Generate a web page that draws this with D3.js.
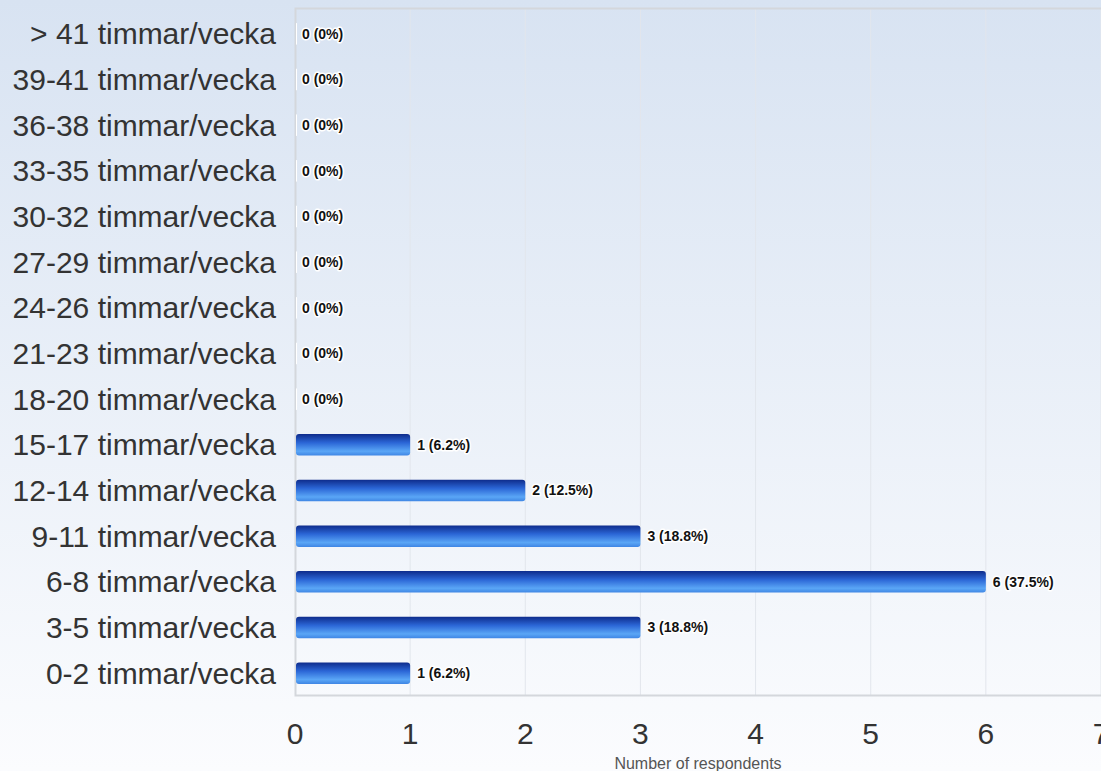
<!DOCTYPE html>
<html><head><meta charset="utf-8">
<script src="https://cdn.jsdelivr.net/npm/d3@7"></script>
<style>html,body{margin:0;padding:0;overflow:hidden}svg{display:block}</style>
</head><body>
<svg id="c" width="1101" height="771"></svg>
<script>
const categories = ["> 41 timmar/vecka","39-41 timmar/vecka","36-38 timmar/vecka","33-35 timmar/vecka","30-32 timmar/vecka","27-29 timmar/vecka","24-26 timmar/vecka","21-23 timmar/vecka","18-20 timmar/vecka","15-17 timmar/vecka","12-14 timmar/vecka","9-11 timmar/vecka","6-8 timmar/vecka","3-5 timmar/vecka","0-2 timmar/vecka"];
const counts = [0,0,0,0,0,0,0,0,0,1,2,3,6,3,1];
const percents = ["0%","0%","0%","0%","0%","0%","0%","0%","0%","6.2%","12.5%","18.8%","37.5%","18.8%","6.2%"];
const xTicks = [0,1,2,3,4,5,6,7];
const xTitle = "Number of respondents";

const svg = d3.select("#c");
const W = 1101, H = 771;
const plotTop = 8, plotBottom = 695, plotLeft = 295;
const defs = svg.append("defs");
const bg = defs.append("linearGradient").attr("id","bg").attr("x1",0).attr("y1",0).attr("x2",0).attr("y2",1);
bg.append("stop").attr("offset","0%").attr("stop-color","#d8e3f2");
bg.append("stop").attr("offset","100%").attr("stop-color","#fbfcfe");
const bar = defs.append("linearGradient").attr("id","bar").attr("x1",0).attr("y1",0).attr("x2",0).attr("y2",1);
bar.append("stop").attr("offset","0%").attr("stop-color","#0e2c8c");
bar.append("stop").attr("offset","40%").attr("stop-color","#2b66d6");
bar.append("stop").attr("offset","80%").attr("stop-color","#5aa6f6");
bar.append("stop").attr("offset","100%").attr("stop-color","#3f86e4");

svg.append("rect").attr("width",W).attr("height",H).attr("fill","url(#bg)");

const x = d3.scaleLinear().domain([0,7]).range([plotLeft, 1101]);
const y = d3.scaleBand().domain(categories).range([11, 696]).paddingInner(0.53).paddingOuter(0.265);

// grid
svg.append("g").selectAll("line").data(xTicks.slice(1)).join("line")
  .attr("x1",d=>x(d)).attr("x2",d=>x(d)).attr("y1",plotTop).attr("y2",plotBottom)
  .attr("stroke","#e2e6ec").attr("stroke-width",1);
// border
svg.append("path").attr("d",`M${W},${plotTop+0.5}H${plotLeft+0.5}V${plotBottom+0.5}H${W}`)
  .attr("fill","none").attr("stroke","#d4d7dc").attr("stroke-width",2);

// bars
svg.append("g").selectAll("rect").data(categories).join("rect")
  .attr("x",x(0)+1).attr("y",d=>y(d))
  .attr("width",(d,i)=>Math.max(0,x(counts[i])-x(0)-1)).attr("height",y.bandwidth())
  .attr("rx",3).attr("fill","url(#bar)");
// zero slivers
svg.append("g").selectAll("rect").data(categories.filter((d,i)=>counts[i]===0)).join("rect")
  .attr("x",x(0)+1).attr("y",d=>y(d)).attr("width",1).attr("height",y.bandwidth()).attr("fill","#ffffff");

// value labels
svg.append("g").selectAll("text").data(categories).join("text")
  .attr("x",(d,i)=>x(counts[i])+7).attr("y",d=>y(d)+y.bandwidth()/2)
  .attr("dy","0.35em").attr("font-family","Liberation Sans, Arial, sans-serif")
  .attr("font-size",14).attr("font-weight","bold").attr("fill","#111")
  .attr("stroke","#fff").attr("stroke-width",3).attr("paint-order","stroke").attr("stroke-linejoin","round")
  .text((d,i)=>`${counts[i]} (${percents[i]})`);

// category labels
svg.append("g").selectAll("text").data(categories).join("text")
  .attr("x",276).attr("y",d=>y(d)+y.bandwidth()/2)
  .attr("dy","0.35em").attr("text-anchor","end")
  .attr("font-family","Liberation Sans, Arial, sans-serif").attr("font-size",30).attr("fill","#333")
  .text(d=>d);

// x tick labels
svg.append("g").selectAll("text").data(xTicks).join("text")
  .attr("x",d=>x(d)).attr("y",744).attr("text-anchor","middle")
  .attr("font-family","Liberation Sans, Arial, sans-serif").attr("font-size",30).attr("fill","#333")
  .text(d=>d);

svg.append("text").attr("x",698).attr("y",769).attr("text-anchor","middle")
  .attr("font-family","Liberation Sans, Arial, sans-serif").attr("font-size",16).attr("fill","#555")
  .text(xTitle);
</script>
</body></html>
